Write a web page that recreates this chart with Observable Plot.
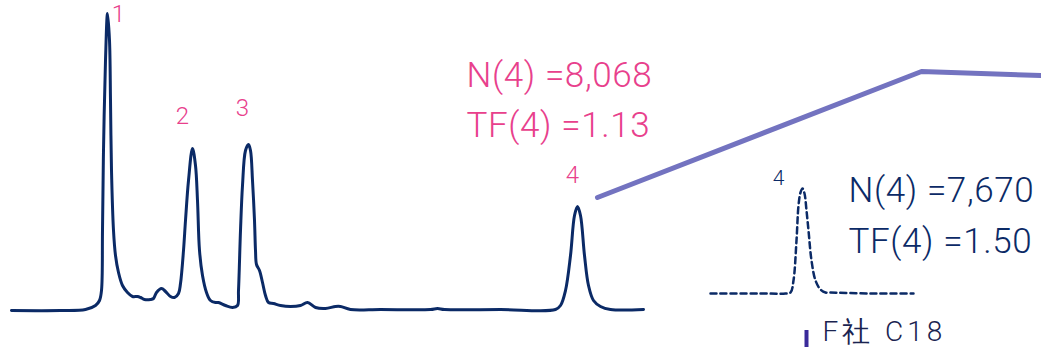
<!DOCTYPE html>
<html>
<head>
<meta charset="utf-8">
<script src="https://cdn.jsdelivr.net/npm/d3@7"></script>
<script src="https://cdn.jsdelivr.net/npm/@observablehq/plot@0.6"></script>
<style>
  html, body { margin: 0; padding: 0; background: #fff; }
  #chart svg { display: block; }
</style>
</head>
<body>
<div id="chart"></div>
<script>
// Main chromatogram (x: retention position, y: signal)
const mainX = [11, 60, 85, 95, 99, 101, 102, 103, 105, 107, 109, 110, 111, 113, 115, 118, 122, 127, 132, 137, 140, 144, 150, 153, 156, 161, 165, 170, 174, 178, 180, 183, 185, 188, 192, 195, 197, 199, 202, 206, 210, 215, 218, 225, 232, 237, 238, 240, 242, 245, 248, 250, 252, 254, 255, 256, 259, 262, 265, 268, 273, 280, 290, 300, 307, 315, 325, 335, 340, 350, 380, 430, 437, 444, 500, 555, 560, 565, 570, 574, 577, 580, 584, 588, 593, 600, 610, 643];
const mainY = [0, 0, 1, 5, 10, 20, 80, 160, 250, 297, 270, 210, 140, 80, 55, 38, 25, 18, 14, 14, 13, 11, 11, 12, 18, 22, 19, 14, 13, 17, 27, 60, 90, 130, 162, 145, 110, 60, 35, 18, 10, 8, 8, 5, 3, 5, 20, 80, 125, 160, 166, 160, 130, 90, 60, 46, 40, 28, 15, 8, 7, 5, 4, 5, 8, 3, 2, 4, 4, 1, 1, 1, 2, 1, 1, 1, 5, 20, 55, 95, 104, 95, 55, 25, 10, 4, 1, 1];

// Inset peak (F社 C18)
const insetX = [710, 760, 785, 790, 793, 796, 798, 800, 802, 804, 806, 808, 811, 815, 820, 825, 830, 870, 913];
const insetY = [17, 17, 17, 18, 30, 70, 105, 118, 122, 117, 100, 80, 50, 30, 21, 18, 18, 17, 17];

// Connector line
const linkX = [597, 921, 1041];
const linkY = [113, 239, 235];

// Peak labels
const peakLabels = ["1", "2", "3", "4"];
const peakLabelX = [118, 182, 242, 572];
const peakLabelY = [296.5, 194, 202, 135];

// Metrics
const pinkText = ["N(4) =8,068", "TF(4) =1.13"];
const pinkTextX = [466, 466];
const pinkTextY = [234.5, 184.5];
const navyText = ["N(4) =7,670", "TF(4) =1.50"];
const navyTextX = [848, 848];
const navyTextY = [120, 69];
const insetLabel = ["4"];
const insetLabelX = [778];
const insetLabelY = [132.5];
const legendText = ["F社 C18"];
const legendX = [822];
const legendY = [-22];

const mainData = mainX.map((x, i) => ({x, y: mainY[i]}));
const insetData = insetX.map((x, i) => ({x, y: insetY[i]}));
const linkData = linkX.map((x, i) => ({x, y: linkY[i]}));

const PINK = "#e8408c";
const NAVY = "#0b2a66";
const FONT = "Roboto, 'Noto Sans', sans-serif";

const chart = Plot.plot({
  width: 1041,
  height: 350,
  margin: 0,
  style: {background: "#fff", fontFamily: FONT},
  x: {domain: [0, 1041], range: [0, 1041], axis: null},
  y: {domain: [-40, 310], range: [350, 0], axis: null},
  marks: [
    Plot.line(linkData, {x: "x", y: "y", stroke: "#7373c0", strokeWidth: 5, strokeLinejoin: "round"}),
    Plot.line(mainData, {x: "x", y: "y", stroke: NAVY, strokeWidth: 3, curve: "catmull-rom"}),
    Plot.line(insetData, {x: "x", y: "y", stroke: NAVY, strokeWidth: 2.5, strokeDasharray: "6,4", curve: "catmull-rom"}),
    Plot.text(peakLabels, {x: (d, i) => peakLabelX[i], y: (d, i) => peakLabelY[i], text: d => d, fill: PINK, fontSize: 24, fontWeight: 300}),
    Plot.text(pinkText, {x: (d, i) => pinkTextX[i], y: (d, i) => pinkTextY[i], text: d => d, fill: PINK, fontSize: 35, fontWeight: 300, textAnchor: "start"}),
    Plot.text(navyText, {x: (d, i) => navyTextX[i], y: (d, i) => navyTextY[i], text: d => d, fill: NAVY, fontSize: 35, fontWeight: 300, textAnchor: "start"}),
    Plot.text(insetLabel, {x: (d, i) => insetLabelX[i], y: (d, i) => insetLabelY[i], text: d => d, fill: NAVY, fontSize: 21, fontWeight: 300}),
    Plot.text(legendText, {x: (d, i) => legendX[i], y: (d, i) => legendY[i], text: d => d, fill: "#1a2350", fontSize: 28, fontWeight: 300, textAnchor: "start"}),
    Plot.ruleX([806], {y1: -20, y2: -37, stroke: "#3a2a9a", strokeWidth: 4})
  ]
});
chart.querySelectorAll("text").forEach(t => {
  if (t.textContent.startsWith("F社")) t.setAttribute("letter-spacing", "4");
  if (t.textContent.startsWith("N(4)") || t.textContent.startsWith("TF(4)")) t.setAttribute("letter-spacing", "0.6");
});
document.getElementById("chart").appendChild(chart);
</script>
</body>
</html>
